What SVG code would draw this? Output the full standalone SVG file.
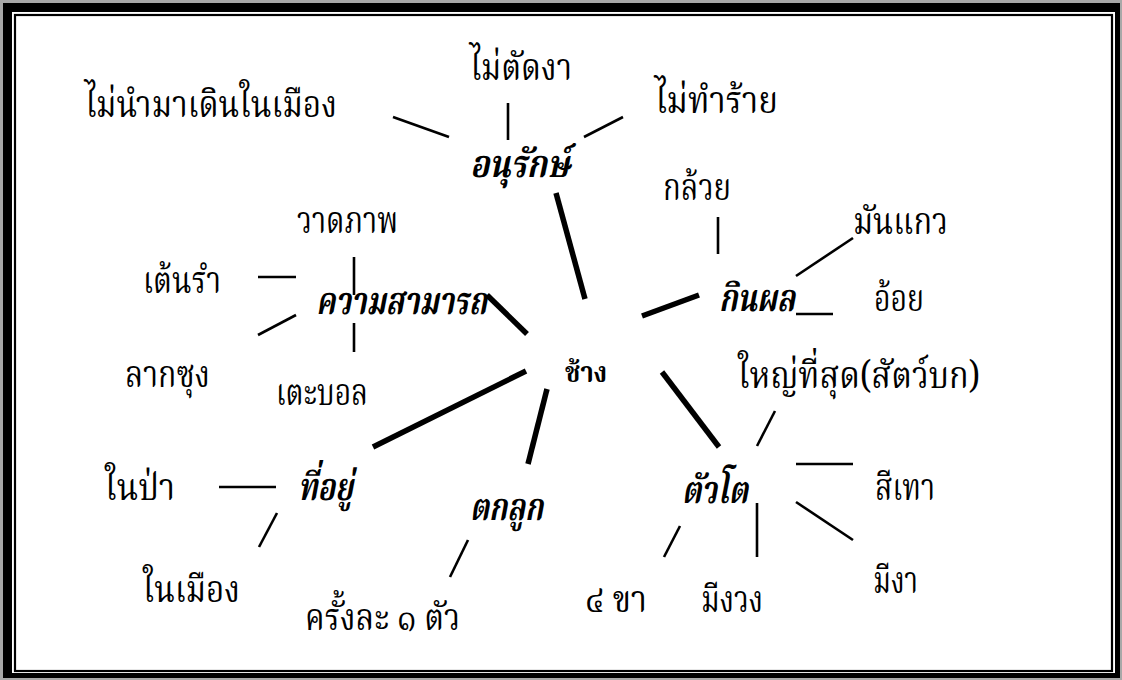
<svg xmlns="http://www.w3.org/2000/svg" width="1122" height="680" viewBox="0 0 1122 680">
<style>
.t{font-family:"Noto Serif Thai","Noto Sans Thai","Loma","Norasi","Garuda","DejaVu Serif","Liberation Serif",serif;font-size:38px;fill:#000}
.b{font-weight:bold;font-style:italic}
.c{font-weight:bold;font-size:28px}
.thin{stroke:#000;stroke-width:2.6;fill:none}
.thick{stroke:#000;stroke-width:5.5;fill:none}
</style>
<rect x="0" y="0" width="1122" height="680" fill="#a8a8a8"/>
<rect x="3" y="3" width="1117" height="675" fill="#000"/>
<rect x="12" y="12" width="1103" height="661" fill="#fff"/>
<rect x="15" y="15" width="1097" height="656" fill="none" stroke="#000" stroke-width="2.2"/>
<g id="connectors">
<line class="thick" x1="556" y1="193" x2="585" y2="299"/>
<line class="thick" x1="642" y1="316" x2="699" y2="295"/>
<line class="thick" x1="662" y1="372" x2="719" y2="447"/>
<line class="thick" x1="487" y1="295" x2="527" y2="334"/>
<line class="thick" x1="373" y1="447" x2="526" y2="371"/>
<line class="thick" x1="547" y1="389" x2="528" y2="464"/>
<line class="thin" x1="393" y1="117" x2="449" y2="137"/>
<line class="thin" x1="508" y1="103" x2="508" y2="140"/>
<line class="thin" x1="584" y1="137" x2="623" y2="117"/>
<line class="thin" x1="718" y1="217" x2="718" y2="254"/>
<line class="thin" x1="796" y1="276" x2="853" y2="238"/>
<line class="thin" x1="796" y1="314" x2="833" y2="314"/>
<line class="thin" x1="775" y1="411" x2="757" y2="446"/>
<line class="thin" x1="796" y1="464" x2="853" y2="464"/>
<line class="thin" x1="796" y1="502" x2="853" y2="540"/>
<line class="thin" x1="757" y1="503" x2="757" y2="557"/>
<line class="thin" x1="680" y1="526" x2="664" y2="557"/>
<line class="thin" x1="258" y1="277" x2="296" y2="277"/>
<line class="thin" x1="354" y1="257" x2="354" y2="295"/>
<line class="thin" x1="258" y1="335" x2="296" y2="315"/>
<line class="thin" x1="354" y1="323" x2="354" y2="352"/>
<line class="thin" x1="219" y1="487" x2="276" y2="487"/>
<line class="thin" x1="277" y1="513" x2="259" y2="547"/>
<line class="thin" x1="468" y1="540" x2="450" y2="577"/>
</g>
<g id="center"><text class="t c" x="565" y="382" textLength="42" lengthAdjust="spacingAndGlyphs">ช้าง</text></g>
<g id="anurak"><text class="t b" x="470" y="177" textLength="100" lengthAdjust="spacingAndGlyphs">อนุรักษ์</text></g>
<g id="mai-nam"><text class="t" x="85" y="117" textLength="252" lengthAdjust="spacingAndGlyphs">ไม่นำมาเดินในเมือง</text></g>
<g id="mai-tat"><text class="t" x="470" y="80" textLength="102" lengthAdjust="spacingAndGlyphs">ไม่ตัดงา</text></g>
<g id="mai-tham"><text class="t" x="655" y="113" textLength="123" lengthAdjust="spacingAndGlyphs">ไม่ทำร้าย</text></g>
<g id="kinphon"><text class="t b" x="719" y="311" textLength="76" lengthAdjust="spacingAndGlyphs">กินผล</text></g>
<g id="kluay"><text class="t" x="663" y="200" textLength="68" lengthAdjust="spacingAndGlyphs">กล้วย</text></g>
<g id="mankaew"><text class="t" x="853" y="234" textLength="95" lengthAdjust="spacingAndGlyphs">มันแกว</text></g>
<g id="oy"><text class="t" x="874" y="311" textLength="50" lengthAdjust="spacingAndGlyphs">อ้อย</text></g>
<g id="khwam"><text class="t b" x="316" y="314" textLength="171" lengthAdjust="spacingAndGlyphs">ความสามารถ</text></g>
<g id="wat"><text class="t" x="297" y="233" textLength="101" lengthAdjust="spacingAndGlyphs">วาดภาพ</text></g>
<g id="ten"><text class="t" x="143" y="293" textLength="78" lengthAdjust="spacingAndGlyphs">เต้นรำ</text></g>
<g id="lak"><text class="t" x="125" y="387" textLength="85" lengthAdjust="spacingAndGlyphs">ลากซุง</text></g>
<g id="te"><text class="t" x="276" y="405" textLength="92" lengthAdjust="spacingAndGlyphs">เตะบอล</text></g>
<g id="thiyu"><text class="t b" x="298" y="500" textLength="55" lengthAdjust="spacingAndGlyphs">ที่อยู่</text></g>
<g id="nai-pa"><text class="t" x="105" y="500" textLength="70" lengthAdjust="spacingAndGlyphs">ในป่า</text></g>
<g id="nai-mueang"><text class="t" x="143" y="602" textLength="97" lengthAdjust="spacingAndGlyphs">ในเมือง</text></g>
<g id="tokluk"><text class="t b" x="470" y="520" textLength="73" lengthAdjust="spacingAndGlyphs">ตกลูก</text></g>
<g id="krang"><text class="t" x="305" y="630" textLength="155" lengthAdjust="spacingAndGlyphs">ครั้งละ ๑ ตัว</text></g>
<g id="tuato"><text class="t b" x="682" y="503" textLength="66" lengthAdjust="spacingAndGlyphs">ตัวโต</text></g>
<g id="yai"><text class="t" x="738" y="388" textLength="242" lengthAdjust="spacingAndGlyphs">ใหญ่ที่สุด(สัตว์บก)</text></g>
<g id="sitao"><text class="t" x="875" y="500" textLength="60" lengthAdjust="spacingAndGlyphs">สีเทา</text></g>
<g id="mi-nga"><text class="t" x="873" y="593" textLength="45" lengthAdjust="spacingAndGlyphs">มีงา</text></g>
<g id="mi-nguang"><text class="t" x="701" y="612" textLength="62" lengthAdjust="spacingAndGlyphs">มีงวง</text></g>
<g id="si-kha"><text class="t" x="585" y="612" textLength="62" lengthAdjust="spacingAndGlyphs">๔ ขา</text></g>
</svg>
